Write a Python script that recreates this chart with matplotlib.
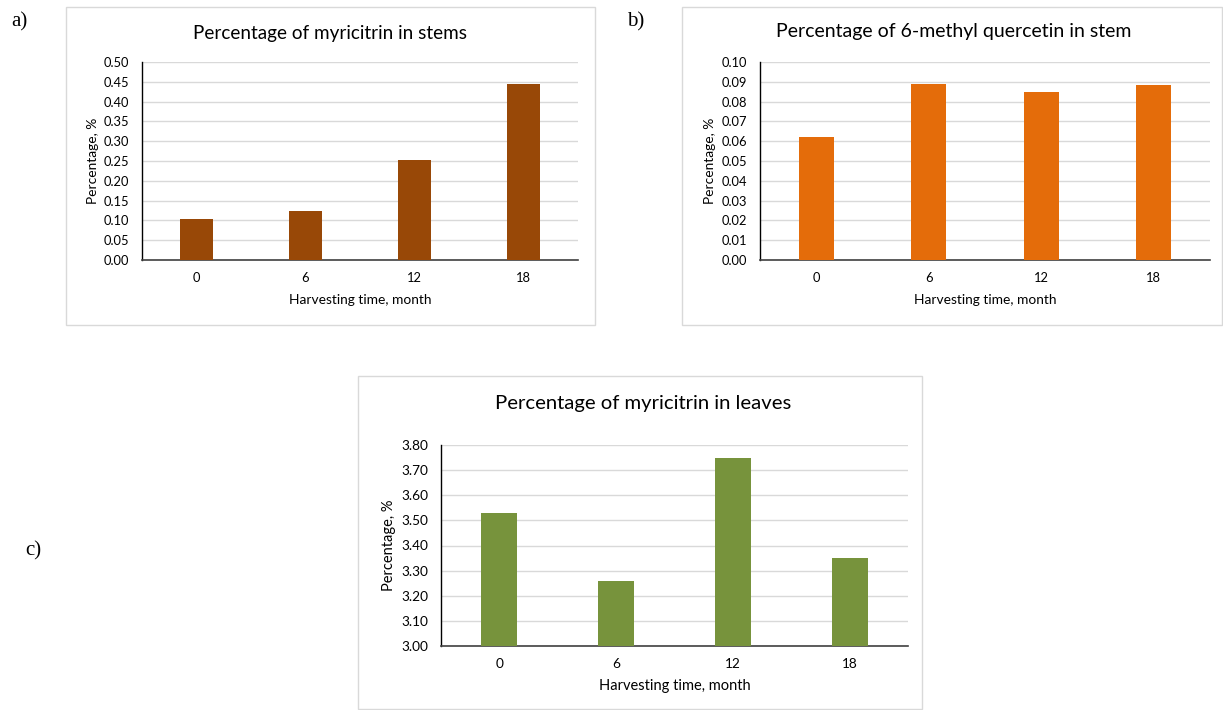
import numpy as np
import matplotlib
matplotlib.use("Agg")
import matplotlib.pyplot as plt
from matplotlib.patches import Rectangle

plt.rcParams['font.family'] = ['Lato', 'DejaVu Sans']

months = ['0', '6', '12', '18']

stems_myricitrin = [0.104, 0.124, 0.252, 0.445]
stems_methylquercetin = [0.0619, 0.0891, 0.0846, 0.0884]
leaves_myricitrin = [3.53, 3.26, 3.748, 3.35]

titles = ['Percentage of myricitrin in stems',
          'Percentage of 6-methyl quercetin in stem',
          'Percentage of myricitrin in leaves']

W, H = 1223, 710
fig = plt.figure(figsize=(W/100, H/100), dpi=100)

def px_axes(x0, x1, y0, y1):
    # pixel box (top-left origin) -> figure axes
    return fig.add_axes([x0/W, 1 - y1/H, (x1 - x0)/W, (y1 - y0)/H])

def px_box(x0, x1, y0, y1):
    fig.patches.append(Rectangle((x0/W, 1 - y1/H), (x1 - x0)/W, (y1 - y0)/H,
                                 transform=fig.transFigure, fill=False,
                                 edgecolor='#D9D9D9', linewidth=1.0))

def bar_panel(ax, vals, color, ylim, step, title, tx, ty,
              fs_title=13.6, fs_tick=9.3, fs_lab=9.9):
    x = np.arange(len(months))
    base = ylim[0]
    ax.bar(x, np.array(vals) - base, bottom=base, width=0.31, color=color, zorder=3)
    ax.set_xlim(-0.5, len(months) - 0.5)
    ax.set_ylim(*ylim)
    ax.set_yticks(np.arange(ylim[0], ylim[1] + step/2, step))
    ax.yaxis.set_major_formatter(matplotlib.ticker.FormatStrFormatter('%.2f'))
    ax.set_xticks(x)
    ax.set_xticklabels(months)
    ax.grid(axis='y', color='#D9D9D9', linewidth=1.0, zorder=0)
    ax.set_axisbelow(True)
    for s in ['top', 'right']:
        ax.spines[s].set_visible(False)
    ax.spines['left'].set_color('#000000')
    ax.spines['left'].set_linewidth(1.0)
    ax.spines['bottom'].set_color('#404040')
    ax.spines['bottom'].set_linewidth(1.2)
    ax.tick_params(length=0, labelsize=fs_tick, colors='#000000')
    ax.tick_params(axis='y', pad=9)
    ax.tick_params(axis='x', pad=9)
    ax.set_xlabel('Harvesting time, month', fontsize=fs_lab)
    ax.xaxis.set_label_coords(0.5, -0.20)
    ax.xaxis.label.set_va('center')
    ax.set_ylabel('Percentage, %', fontsize=fs_lab)
    ax.yaxis.set_label_coords(-0.112, 0.5)
    ax.yaxis.label.set_va('center')
    fig.text(tx/W, 1 - ty/H, title, ha='center', va='center', fontsize=fs_title)

# boxes
px_box(65.5, 595, 7, 325)
px_box(682, 1222, 7, 325)
px_box(358, 922, 376, 709)

ax1 = px_axes(142, 578, 62, 260)
bar_panel(ax1, stems_myricitrin, '#984807', (0, 0.5), 0.05, titles[0], 330, 33)

ax2 = px_axes(760, 1210, 62, 260)
bar_panel(ax2, stems_methylquercetin, '#E46C0A', (0, 0.1), 0.01, titles[1], 954, 32,
          fs_title=14.0)

ax3 = px_axes(441, 908, 445, 646)
bar_panel(ax3, leaves_myricitrin, '#77933C', (3.0, 3.8), 0.1, titles[2], 643, 404,
          fs_title=14.6, fs_tick=9.8, fs_lab=10.5)

for lab, x, y in [('a)', 19, 22), ('b)', 636, 22), ('c)', 33, 551)]:
    fig.text(x/W, 1 - y/H, lab, ha='center', va='center', fontsize=15,
             family='Liberation Serif')

fig.savefig('out.png', dpi=100)
